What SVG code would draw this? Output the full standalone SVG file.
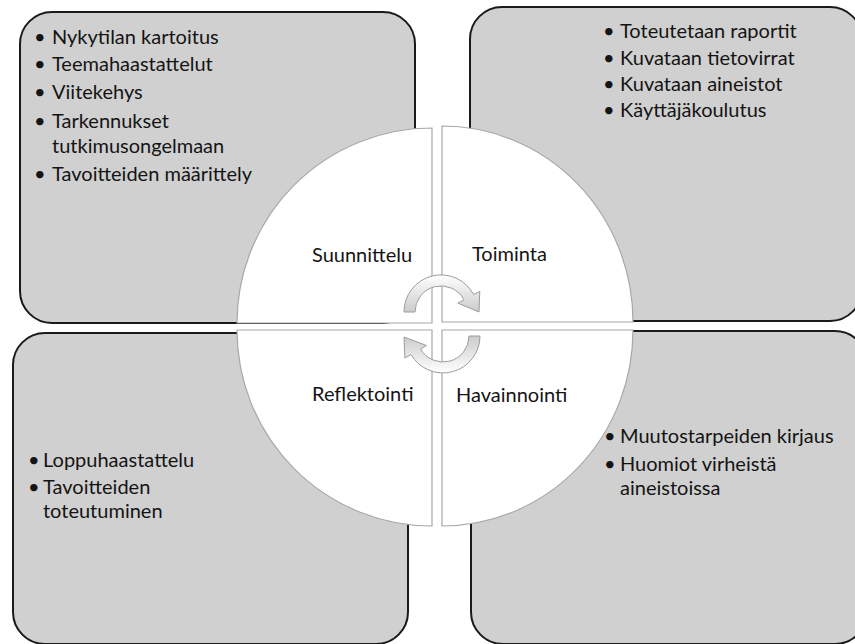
<svg xmlns="http://www.w3.org/2000/svg" width="855" height="644" viewBox="0 0 855 644">
<style>
.box{fill:#d0d0d0;stroke:#1a1a1a;stroke-width:2}
.quad{fill:#ffffff;stroke:#a8a8a8;stroke-width:1.2}
.t{font-family:Lato,"Liberation Sans",sans-serif;font-size:20px;fill:#141414}
.arrow{fill:url(#ag);stroke:#9c9c9c;stroke-width:1}
</style>
<defs>
<linearGradient id="ag" x1="0" y1="0" x2="0" y2="1">
<stop offset="0" stop-color="#ffffff"/>
<stop offset="1" stop-color="#cbcbcb"/>
</linearGradient>
<linearGradient id="ag2" x1="0" y1="1" x2="0" y2="0">
<stop offset="0" stop-color="#ffffff"/>
<stop offset="1" stop-color="#cbcbcb"/>
</linearGradient>
</defs>

<g id="box-top-left">
<rect class="box" x="20" y="12" width="395" height="311" rx="32"/>
</g>
<g id="box-top-right">
<rect class="box" x="470" y="7" width="392" height="314" rx="32"/>
</g>
<g id="box-bottom-left">
<rect class="box" x="13" y="333" width="395" height="311" rx="32"/>
</g>
<g id="box-bottom-right">
<rect class="box" x="471" y="331" width="396" height="313" rx="32"/>
</g>

<g id="quad-suunnittelu">
<path class="quad" d="M432,323 L237,323 A195,195 0 0 1 432,128 Z"/>
<text class="t" x="312" y="262">Suunnittelu</text>
</g>
<g id="quad-toiminta">
<path class="quad" d="M442,322 L442,126 A191,196 0 0 1 633,322 Z"/>
<text class="t" x="472" y="261">Toiminta</text>
</g>
<g id="quad-reflektointi">
<path class="quad" d="M432,330 L432,526 A195,196 0 0 1 237,330 Z"/>
<text class="t" x="312" y="401">Reflektointi</text>
</g>
<g id="quad-havainnointi">
<path class="quad" d="M442,330 L633,330 A191,196 0 0 1 442,526 Z"/>
<text class="t" x="456" y="402">Havainnointi</text>
</g>

<g id="connectors">
<path class="arrow" d="M404,312 A37,37 0 0 1 473.7,294.6 L479.8,291.3 L479,312 L457.8,303.1 L464,299.8 A26,26 0 0 0 415,312 Z"/>
<path class="arrow" style="fill:url(#ag2)" d="M480,336 A37,37 0 0 1 411,354.5 L404.9,358 L404,337 L426.5,345.5 L420.5,349 A26,26 0 0 0 469,336 Z"/>
</g>

<g id="text-top-left" class="t">
<text x="34" y="44">•</text><text x="52" y="44">Nykytilan kartoitus</text>
<text x="34" y="71">•</text><text x="52" y="71">Teemahaastattelut</text>
<text x="34" y="99">•</text><text x="52" y="99">Viitekehys</text>
<text x="34" y="128">•</text><text x="52" y="128">Tarkennukset</text>
<text x="52" y="153">tutkimusongelmaan</text>
<text x="34" y="181">•</text><text x="52" y="181">Tavoitteiden määrittely</text>
</g>
<g id="text-top-right" class="t">
<text x="603" y="38">•</text><text x="620" y="38">Toteutetaan raportit</text>
<text x="603" y="65">•</text><text x="620" y="65">Kuvataan tietovirrat</text>
<text x="603" y="91">•</text><text x="620" y="91">Kuvataan aineistot</text>
<text x="603" y="117">•</text><text x="620" y="117">Käyttäjäkoulutus</text>
</g>
<g id="text-bottom-left" class="t">
<text x="28" y="467">•</text><text x="43" y="467">Loppuhaastattelu</text>
<text x="28" y="494">•</text><text x="43" y="494">Tavoitteiden</text>
<text x="43" y="518">toteutuminen</text>
</g>
<g id="text-bottom-right" class="t">
<text x="604" y="443">•</text><text x="620" y="443">Muutostarpeiden kirjaus</text>
<text x="604" y="471">•</text><text x="620" y="471">Huomiot virheistä</text>
<text x="620" y="495">aineistoissa</text>
</g>
</svg>
